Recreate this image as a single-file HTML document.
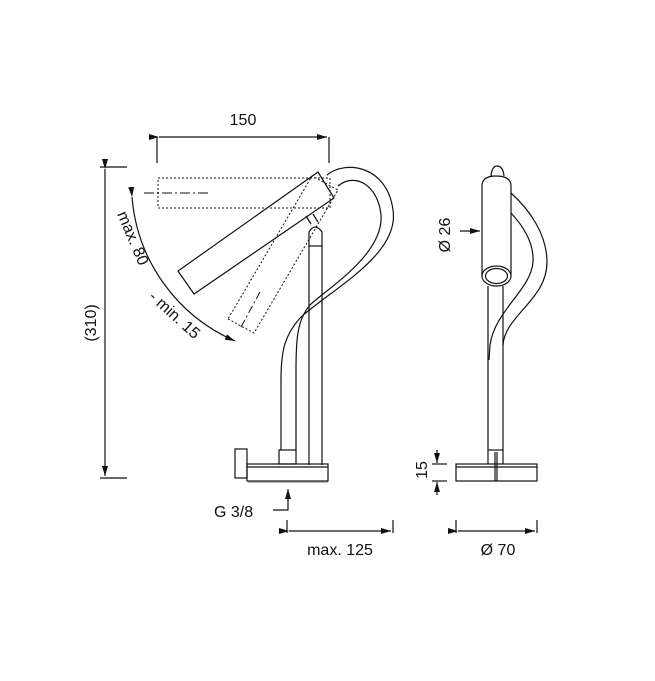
<!DOCTYPE html>
<html><head><meta charset="utf-8"><style>body{margin:0;background:#fff}svg{display:block}text{font-family:"Liberation Sans",sans-serif;fill:#111}</style></head><body>
<svg width="655" height="681" viewBox="0 0 655 681" xmlns="http://www.w3.org/2000/svg">
<defs><marker id="a" markerWidth="10" markerHeight="6" refX="10" refY="3" orient="auto" markerUnits="userSpaceOnUse"><path d="M0,0 L10,3 L0,6 z" fill="#111"/></marker></defs>
<g fill="none" stroke="#111" stroke-width="1.2">
<line x1="157" y1="137" x2="157" y2="163"/><line x1="329" y1="137" x2="329" y2="163"/>
<line x1="159" y1="137" x2="327" y2="137" marker-start="url(#a)" marker-end="url(#a)"/>
<line x1="100" y1="167" x2="127" y2="167"/><line x1="100" y1="478" x2="127" y2="478"/>
<line x1="105" y1="169" x2="105" y2="476" marker-start="url(#a)" marker-end="url(#a)"/>
<rect x="158" y="178" width="172" height="30" stroke-dasharray="2,2" stroke-width="1"/>
<line x1="144" y1="193" x2="208" y2="193" stroke-dasharray="10,3,2,3" stroke-width="1"/>
<polygon points="228,319 254,333 338,190 312,176" stroke-dasharray="2,2" stroke-width="1"/>
<line x1="241" y1="327" x2="260" y2="292" stroke-dasharray="8,3,2,3" stroke-width="1"/>
<polygon points="178,271 194,294 334,198 318,172"/>
<path d="M132,197 A172,172 0 0 0 235,341" marker-start="url(#a)" marker-end="url(#a)"/>
<path d="M309,465 L309,232 Q315,222 322,232 L322,465"/>
<line x1="309" y1="246" x2="322" y2="246"/>
<line x1="311" y1="224" x2="306" y2="216"/><line x1="318" y1="222" x2="313" y2="214"/>
<path d="M327,175 C345,160 387,165 393,210 C400,255 330,290 300,318 C285,335 281,350 281,380 L281,450"/>
<path d="M338,186 C355,172 378,185 381,215 C384,255 325,290 310,305 C297,320 296,340 296,370 L296,450"/>
<rect x="279" y="450" width="17" height="14"/>
<rect x="247" y="464" width="81" height="17"/>
<line x1="247" y1="467" x2="328" y2="467"/>
<line x1="248" y1="482" x2="328" y2="482" stroke="#888"/>
<rect x="235" y="449" width="12" height="29"/>
<path d="M273,510 L288,510 L288,492" /><line x1="288" y1="500" x2="288" y2="489" marker-end="url(#a)"/>
<line x1="287" y1="520" x2="287" y2="533"/><line x1="393" y1="520" x2="393" y2="533"/>
<line x1="289" y1="531" x2="391" y2="531" marker-start="url(#a)" marker-end="url(#a)"/>
<path d="M482,276 L482,186 Q482,176 496,176 Q511,176 511,186 L511,276"/>
<path d="M491,176 Q492,166 497,166 Q503,166 504,176"/>
<ellipse cx="496.5" cy="276" rx="14.5" ry="10"/>
<ellipse cx="496.5" cy="276" rx="11" ry="7.5"/>
<line x1="488" y1="286" x2="488" y2="464"/><line x1="503" y1="286" x2="503" y2="464"/>
<line x1="488" y1="450" x2="503" y2="450"/>
<path d="M511,193 C530,210 547,235 547,262 C547,300 505,315 503,345"/>
<path d="M511,213 C525,228 534,245 533,262 C531,290 495,310 490,345 L489,360"/>
<rect x="456" y="464" width="81" height="17"/>
<line x1="456" y1="467" x2="537" y2="467"/>
<line x1="495" y1="452" x2="495" y2="481"/><line x1="497" y1="452" x2="497" y2="481"/>
<line x1="432" y1="464" x2="447" y2="464"/><line x1="432" y1="481" x2="447" y2="481"/>
<line x1="437" y1="450" x2="437" y2="463" marker-end="url(#a)"/>
<line x1="437" y1="495" x2="437" y2="482" marker-end="url(#a)"/>
<line x1="460" y1="231" x2="480" y2="231" marker-end="url(#a)"/>
<line x1="456" y1="520" x2="456" y2="533"/><line x1="537" y1="520" x2="537" y2="533"/>
<line x1="458" y1="531" x2="535" y2="531" marker-start="url(#a)" marker-end="url(#a)"/>
</g>
<text x="243" y="125" font-size="16" text-anchor="middle">150</text>
<text transform="translate(96,323) rotate(-90)" font-size="16" text-anchor="middle">(310)</text>
<text transform="translate(117,214) rotate(67)" font-size="16">max. 80</text>
<text transform="translate(148,298) rotate(42)" font-size="16">- min. 15</text>
<text x="214" y="517" font-size="16">G 3/8</text>
<text x="340" y="555" font-size="16" text-anchor="middle">max. 125</text>
<text transform="translate(427,470) rotate(-90)" font-size="16" text-anchor="middle">15</text>
<text transform="translate(450,235) rotate(-90)" font-size="16" text-anchor="middle">Ø 26</text>
<text x="498" y="555" font-size="16" text-anchor="middle">Ø 70</text>
</svg>
</body></html>
